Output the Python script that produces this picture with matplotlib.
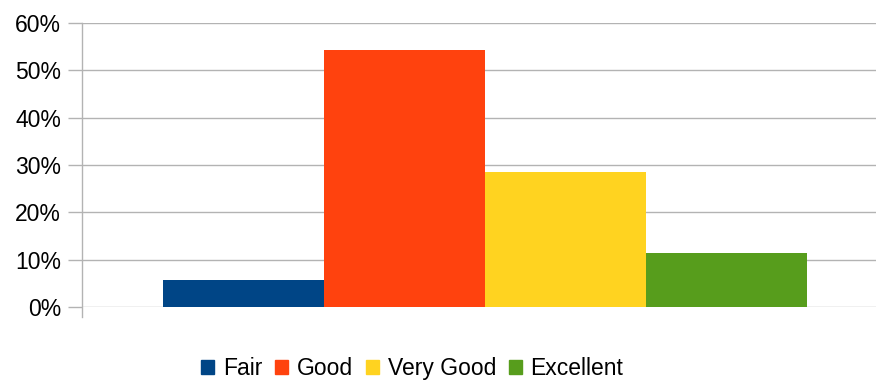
#!/usr/bin/env python3
import numpy as np
import matplotlib
matplotlib.use("Agg")
import matplotlib.pyplot as plt
from matplotlib.ticker import PercentFormatter

# data
labels = ["Fair", "Good", "Very Good", "Excellent"]
shares = [0.057, 0.543, 0.286, 0.114]
colors = ["#004586", "#ff420e", "#ffd320", "#579d1c"]
y_ticks = [0.0, 0.1, 0.2, 0.3, 0.4, 0.5, 0.6]

plt.rcParams['font.family'] = ['Liberation Sans', 'DejaVu Sans']

fig = plt.figure(figsize=(8.76, 3.8), dpi=100)
# plot area runs a bit past the right edge of the picture
ax = fig.add_axes([82 / 876, 73 / 380, 806 / 876, 284 / 380])

x = np.arange(len(labels))
ax.bar(x, shares, width=1.0, color=colors, zorder=3)

ax.set_xlim(-1, 4)
ax.set_ylim(0, 0.6)
ax.set_yticks(y_ticks)
ax.yaxis.set_major_formatter(PercentFormatter(1.0, decimals=0))
ax.set_xticks([])

ax.grid(axis='y', color='#b3b3b3', linewidth=1.0, zorder=0)
for s in ['top', 'right', 'bottom']:
    ax.spines[s].set_visible(False)
ax.spines['left'].set_color('#b3b3b3')
ax.spines['left'].set_linewidth(1.0)
ax.spines['left'].set_bounds(-0.022, 0.6)

ax.tick_params(axis='y', length=10, width=1.0, color='#b3b3b3',
               labelsize=16.5, pad=5, labelcolor='black')

handles = [plt.Rectangle((0, 0), 1, 1, color=c) for c in colors]
fig.legend(handles, labels, loc='center', bbox_to_anchor=(0.4705, 0.03),
           ncol=4, frameon=False, fontsize=16.5,
           handlelength=0.57, handleheight=0.57, handletextpad=0.39,
           columnspacing=0.55, borderpad=0, borderaxespad=0)

fig.savefig("out.png", dpi=100)
